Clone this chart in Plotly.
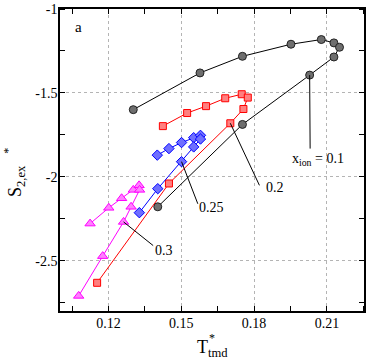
import plotly.graph_objects as go

# x_ion = 0.1
t_01 = [0.1302, 0.1577, 0.1752, 0.1952, 0.2077, 0.2129, 0.2152, 0.2129, 0.2029, 0.1752, 0.1403]
s_01 = [-1.600, -1.381, -1.282, -1.210, -1.182, -1.202, -1.228, -1.286, -1.394, -1.688, -2.179]

# x_ion = 0.2
t_02 = [0.1424, 0.1524, 0.1602, 0.1681, 0.1749, 0.1774, 0.1756, 0.1702, 0.1449, 0.1153]
s_02 = [-1.698, -1.620, -1.579, -1.532, -1.508, -1.528, -1.596, -1.681, -2.040, -2.632]

# x_ion = 0.25
t_025 = [0.1401, 0.1449, 0.1501, 0.1551, 0.1579, 0.1579, 0.1551, 0.1501, 0.1403, 0.1327]
s_025 = [-1.871, -1.832, -1.796, -1.767, -1.753, -1.775, -1.822, -1.910, -2.071, -2.214]

# x_ion = 0.3
t_03 = [0.1124, 0.1201, 0.1254, 0.1302, 0.1326, 0.1328, 0.1293, 0.1262, 0.1176, 0.1077]
s_03 = [-2.279, -2.185, -2.128, -2.078, -2.051, -2.078, -2.179, -2.269, -2.473, -2.710]

x_ticks = [0.12, 0.15, 0.18, 0.21]
x_ticktext = ["0.12", "0.15", "0.18", "0.21"]
y_ticks = [-1, -1.5, -2, -2.5]
y_ticktext = ["-1", "-1.5", "-2", "-2.5"]

SERIF = "Liberation Serif, Times New Roman, serif"

series = [
    (t_01, s_01, "#000000", "#6e6e6e", "#222222", "circle", 8),
    (t_02, s_02, "#ff0000", "#ff8080", "#ff0000", "square", 7),
    (t_025, s_025, "#0000ff", "#6f6fff", "#0000ff", "diamond", 8),
    (t_03, s_03, "#ff00ff", "#ff80ff", "#ff00ff", "triangle-up", 9),
]

fig = go.Figure()
for xs, ys, lc, fc, mc, sym, sz in series:
    fig.add_trace(go.Scatter(
        x=xs, y=ys, mode="lines+markers",
        line=dict(color=lc, width=1),
        marker=dict(symbol=sym, size=sz, color=fc, line=dict(color=mc, width=1)),
        showlegend=False,
    ))

# leader lines from labels to curves
leaders = [
    (t_01[8], s_01[8], 0.2031, -1.832),
    (t_02[7], s_02[7], 0.1822, -2.051),
    (t_025[7], s_025[7], 0.1568, -2.161),
    (t_03[7], s_03[7], 0.1384, -2.410),
]
for x0, y0, x1, y1 in leaders:
    fig.add_shape(type="line", x0=x0, y0=y0, x1=x1, y1=y1, xref="x", yref="y",
                  line=dict(color="#000000", width=1))

labels = [
    (0.2065, -1.895, "x<sub>ion</sub> = 0.1"),
    (0.1888, -2.066, "0.2"),
    (0.1625, -2.185, "0.25"),
    (0.1429, -2.437, "0.3"),
]
for x, y, txt in labels:
    fig.add_annotation(x=x, y=y, text=txt, showarrow=False, xref="x", yref="y",
                       font=dict(family=SERIF, size=14, color="black"))

fig.add_annotation(x=0.1075, y=-1.11, text="a", showarrow=False, xref="x", yref="y",
                   font=dict(family=SERIF, size=15, color="black"))

# axis titles
fig.add_annotation(x=0.443, y=-0.078, xref="paper", yref="paper", xanchor="left", yanchor="top",
                   text="T<sub>tmd</sub>", showarrow=False,
                   font=dict(family=SERIF, size=18, color="black"))
fig.add_annotation(x=0.482, y=-0.06, xref="paper", yref="paper", xanchor="left", yanchor="top",
                   text="*", showarrow=False,
                   font=dict(family=SERIF, size=12, color="black"))
fig.add_annotation(x=-0.145, y=0.43, xref="paper", yref="paper", xanchor="center", yanchor="middle",
                   text="S<sub>2,ex</sub>", textangle=-90, showarrow=False,
                   font=dict(family=SERIF, size=18, color="black"))
fig.add_annotation(x=-0.172, y=0.53, xref="paper", yref="paper", xanchor="center", yanchor="middle",
                   text="*", textangle=-90, showarrow=False,
                   font=dict(family=SERIF, size=12, color="black"))

axis_common = dict(
    showline=True, linecolor="black", linewidth=1.5, mirror="allticks",
    showgrid=True, gridcolor="#b4b4b4", griddash="dot", gridwidth=1,
    zeroline=False, ticks="", ticklabeloverflow="allow",
    tickfont=dict(family=SERIF, size=14, color="black"),
)
fig.update_xaxes(range=[0.10, 0.2253], tickvals=x_ticks, ticktext=x_ticktext,
                 ticklabelstandoff=-2,
                 minor=dict(ticks="inside", ticklen=5, tickcolor="black", dtick=0.015,
                            tick0=0.105, showgrid=False),
                 **axis_common)
fig.update_yaxes(range=[-2.8, -1.0], tickvals=y_ticks, ticktext=y_ticktext,
                 ticklabelstandoff=-2,
                 minor=dict(ticks="inside", ticklen=5, tickcolor="black", dtick=0.25,
                            tick0=-1.25, showgrid=False),
                 **axis_common)
fig.update_layout(
    width=368, height=359,
    margin=dict(l=60, r=2, t=5, b=48),
    plot_bgcolor="white", paper_bgcolor="white",
)
fig.write_html("out.html", config={"displayModeBar": False},
               post_script="document.body.style.margin='0';")
